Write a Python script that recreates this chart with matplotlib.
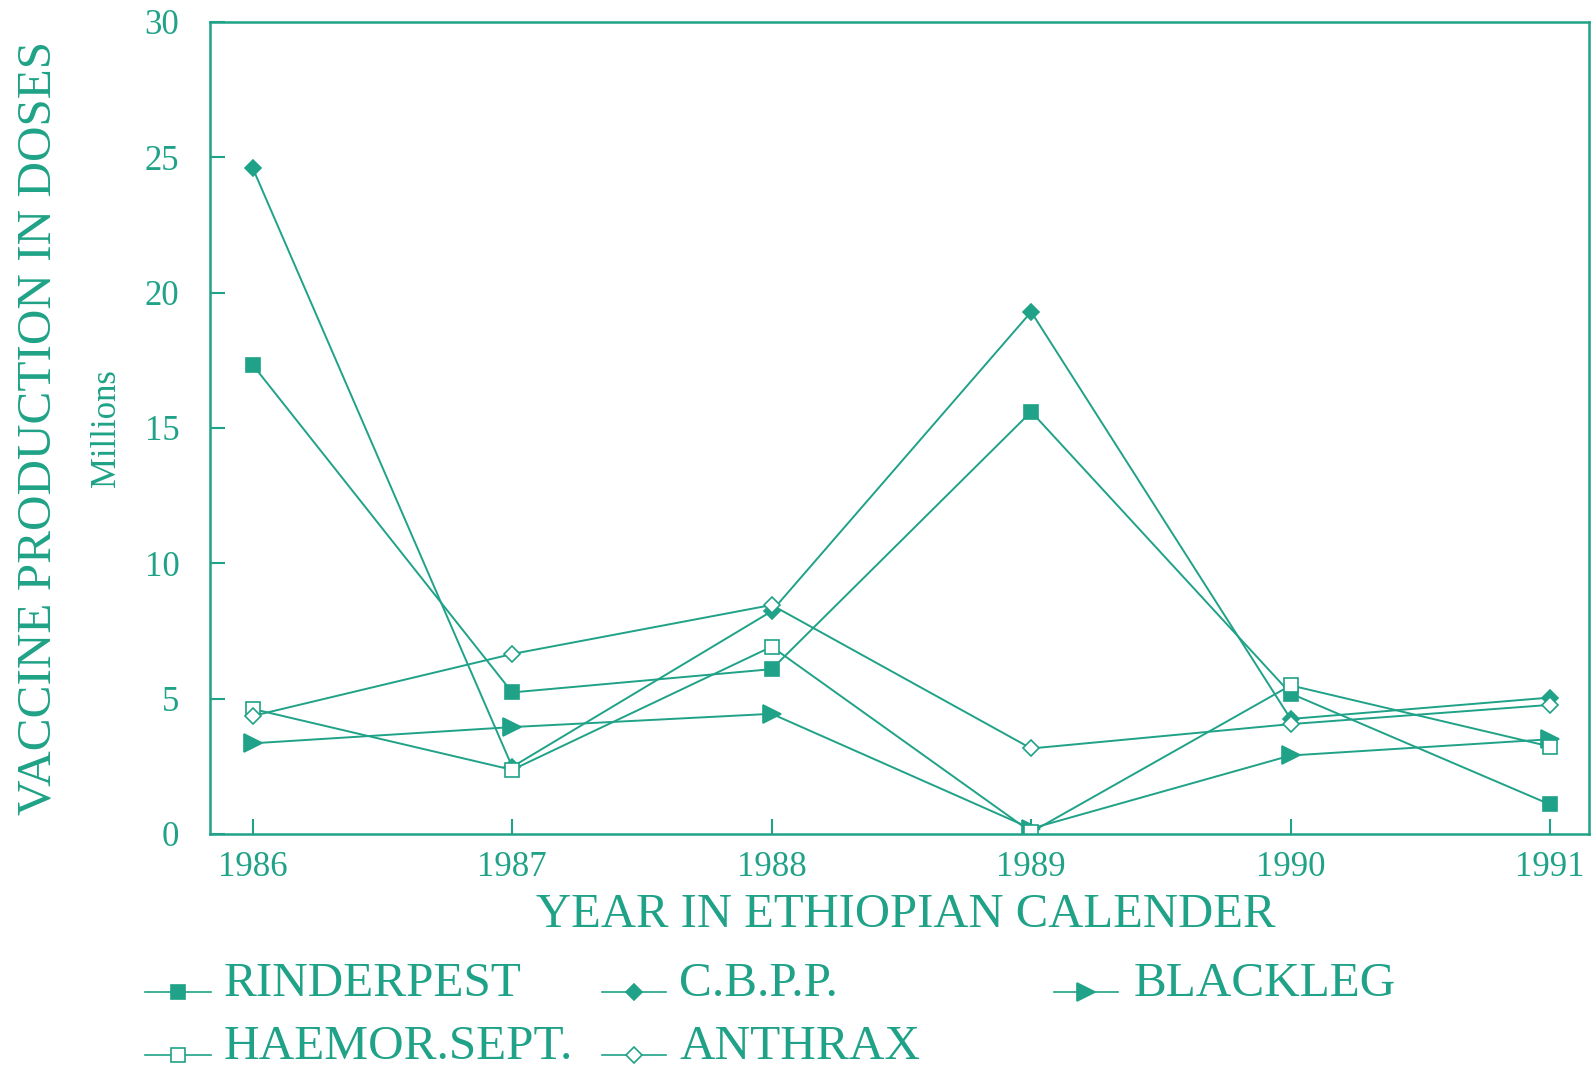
import matplotlib
matplotlib.use("Agg")
import matplotlib.pyplot as plt
from matplotlib.lines import Line2D

years = [1986, 1987, 1988, 1989, 1990, 1991]
rinderpest = [17.33, 5.23, 6.09, 15.6, 5.19, 1.09]
cbpp = [24.6, 2.48, 8.23, 19.29, 4.25, 5.04]
blackleg = [3.35, 3.95, 4.44, 0.2, 2.9, 3.5]
haemor = [4.62, 2.37, 6.92, 0.07, 5.49, 3.23]
anthrax = [4.36, 6.65, 8.46, 3.16, 4.06, 4.77]
series_names = ["RINDERPEST", "C.B.P.P.", "BLACKLEG", "HAEMOR.SEPT.", "ANTHRAX"]
yticks = [0, 5, 10, 15, 20, 25, 30]

C = "#1fa287"
plt.rcParams['font.family'] = ['Liberation Serif', 'DejaVu Serif']

fig = plt.figure(figsize=(15.94, 10.71), dpi=100)
ax = fig.add_axes([0.1317, 0.2213, 0.9969 - 0.1317, 0.9795 - 0.2213])

styles = [
    dict(marker='s', mfc=C, ms=10),
    dict(marker='D', mfc=C, ms=8),
    dict(marker='>', mfc=C, ms=13),
    dict(marker='s', mfc='white', ms=10),
    dict(marker='D', mfc='white', ms=8),
]
data = [rinderpest, cbpp, blackleg, haemor, anthrax]
for vals, st in zip(data, styles):
    ax.plot(years, vals, color=C, lw=1.4, mec=C, mew=1.2, **st)

ax.set_xlim(1985.835, 1991.15)
ax.set_ylim(0, 30)
ax.set_xticks(years)
ax.set_yticks(yticks)
ax.tick_params(direction='in', length=11, width=1.5, color=C, labelcolor=C,
               labelsize=25)
ax.tick_params(axis='x', pad=12)
ax.tick_params(axis='y', pad=22)
for s in ax.spines.values():
    s.set_color(C)
    s.set_linewidth(1.8)

fig.text(0.024, 0.6, "VACCINE PRODUCTION IN DOSES", rotation=90, color=C,
         fontsize=35.5, ha='center', va='center')
fig.text(0.067, 0.6, "Millions", rotation=90, color=C,
         fontsize=25, ha='center', va='center')
fig.text(0.568, 0.146, "YEAR IN ETHIOPIAN CALENDER", color=C,
         fontsize=35, ha='center', va='center')

# manual legend
rows = [0.070, 0.011]
cols = [(0.091, 0.1325, 0.1403), (0.3777, 0.4178, 0.426), (0.661, 0.7016, 0.711)]
positions = [(0, 0), (0, 1), (0, 2), (1, 0), (1, 1)]
for name, st, (r, c) in zip(series_names, styles, positions):
    x0, x1, xt = cols[c]
    y = rows[r] + 0.004
    fig.add_artist(Line2D([x0, x1], [y, y], transform=fig.transFigure, color=C,
                          lw=1.2, ls='-'))
    fig.add_artist(Line2D([(x0 + x1) / 2], [y], transform=fig.transFigure,
                          color=C, mec=C, mew=1.2, ls='none', **st))
    fig.text(xt, rows[r], name, color=C, fontsize=35.5, ha='left', va='baseline')

fig.savefig("out.png", dpi=100)
